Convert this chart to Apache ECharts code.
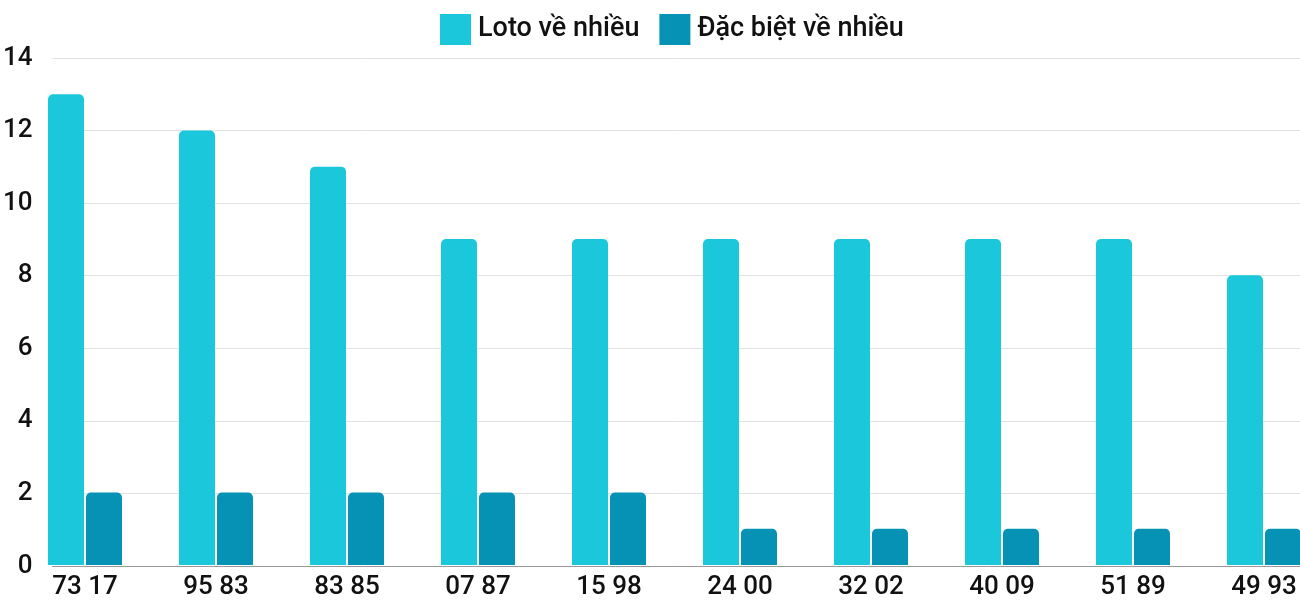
<!DOCTYPE html>
<html><head><meta charset="utf-8">
<script src="https://cdn.jsdelivr.net/npm/echarts@6/dist/echarts.min.js"></script>
<style>html,body{margin:0;padding:0;background:#fff;overflow:hidden;width:1300px;height:600px}#c{width:1330px;height:600px}</style>
</head><body><div id="c"></div>
<script>
const categories = ['73 17','95 83','83 85','07 87','15 98','24 00','32 02','40 09','51 89','49 93'];
const lotoValues = [13,12,11,9,9,9,9,9,9,8];
const dbValues = [2,2,2,2,2,1,1,1,1,1];
const seriesNames = ['Loto về nhiều','Đặc biệt về nhiều'];
const yTicks = {min:0, max:14, interval:2};

const chart = echarts.init(document.getElementById('c'));
const font = 'Roboto';
chart.setOption({
  animation:false,
  textStyle:{fontFamily:font},
  legend:{
    left:435, top:9, itemWidth:31, itemHeight:31, itemGap:20,
    icon:'rect',
    textStyle:{fontSize:27, color:'#111', fontFamily:font, fontWeight:500, padding:[0,0,0,2]},
    data:seriesNames
  },
  grid:[
    {left:48, right:30, top:58, bottom:34},
    {left:19.5, width:1310, top:58, bottom:34}
  ],
  xAxis:[
    {type:'category', gridIndex:0, data:categories, show:true,
     axisLine:{show:true, lineStyle:{color:'#999', width:1}}, axisTick:{show:false}, axisLabel:{show:false}},
    {type:'category', gridIndex:1, data:categories,
     axisLine:{show:false}, axisTick:{show:false},
     axisLabel:{fontSize:26, color:'#111', margin:9, fontFamily:font, fontWeight:500, interval:0}}
  ],
  yAxis:[
    {type:'value', gridIndex:0, min:yTicks.min, max:yTicks.max, interval:yTicks.interval,
     axisLine:{show:false}, axisTick:{show:false},
     axisLabel:{fontSize:26, color:'#111', margin:20, fontFamily:font, fontWeight:500},
     splitLine:{lineStyle:{color:'#e2e2e2', width:1}}},
    {type:'value', gridIndex:1, min:yTicks.min, max:yTicks.max, interval:yTicks.interval, show:false,
     splitLine:{show:false}}
  ],
  series:[
    {name:seriesNames[0], type:'bar', xAxisIndex:1, yAxisIndex:1, data:lotoValues,
     barWidth:36, barGap:'5.5%', itemStyle:{color:'#1bc8db', borderRadius:[5,5,0,0]}},
    {name:seriesNames[1], type:'bar', xAxisIndex:1, yAxisIndex:1, data:dbValues,
     barWidth:36, barGap:'5.5%', itemStyle:{color:'#0592b5', borderRadius:[5,5,0,0]}}
  ]
});
</script></body></html>
